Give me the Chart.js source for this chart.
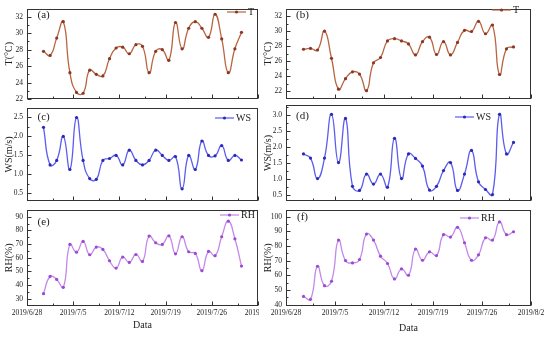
<!DOCTYPE html>
<html>
<head>
<meta charset="utf-8">
<script src="https://cdn.jsdelivr.net/npm/chart.js@4.4.1/dist/chart.umd.min.js"></script>
<style>
  html, body { margin: 0; padding: 0; background: #ffffff; }
  body { width: 550px; height: 337px; position: relative; overflow: hidden; }
  .wrap { position: absolute; left: 0; top: 0; height: 337px; overflow: hidden; }
</style>
</head>
<body>
<script>
// ---------------- DATA ----------------
const dates = ['2019/6/30','2019/7/1','2019/7/2','2019/7/3','2019/7/4','2019/7/5','2019/7/6','2019/7/7',
  '2019/7/8','2019/7/9','2019/7/10','2019/7/11','2019/7/12','2019/7/13','2019/7/14','2019/7/15',
  '2019/7/16','2019/7/17','2019/7/18','2019/7/19','2019/7/20','2019/7/21','2019/7/22','2019/7/23',
  '2019/7/24','2019/7/25','2019/7/26','2019/7/27','2019/7/28','2019/7/29','2019/7/30'];

const xTickLabels = ['2019/6/28','2019/7/5','2019/7/12','2019/7/19','2019/7/26','2019/8/2'];

// (a) temperature
const tA = [27.8,27.3,29.4,31.4,25.2,22.8,22.7,25.5,25.0,24.8,26.9,28.2,28.3,27.5,28.6,28.4,
  25.2,27.8,28.0,26.7,31.3,28.1,30.6,31.4,30.6,29.5,32.3,29.3,25.2,28.1,30.1];
// (b) temperature
const tB = [27.6,27.7,27.5,30.0,26.4,22.3,23.7,24.6,24.3,22.1,25.8,26.5,28.7,29.0,28.7,28.3,
  26.85,28.6,29.2,26.9,28.6,26.85,28.5,30.1,29.95,31.3,29.65,30.8,24.25,27.65,27.9];
// (c) wind speed
const wsC = [2.24,1.25,1.37,2.0,1.13,2.5,1.37,0.89,0.87,1.37,1.42,1.5,1.25,1.64,1.37,1.25,
  1.37,1.64,1.5,1.37,1.47,0.62,1.5,1.13,1.88,1.5,1.49,1.76,1.37,1.5,1.38];
// (d) wind speed
const wsD = [1.77,1.64,1.0,1.64,3.01,1.5,2.88,0.76,0.63,1.14,0.83,1.14,0.73,2.26,1.0,1.77,
  1.63,1.39,0.64,0.76,1.25,1.5,0.63,1.14,1.88,0.9,0.66,0.5,3.01,1.77,2.13];
// (e) relative humidity
const rhE = [33.7,46.3,44.1,38.3,69.8,64.1,72.0,62.2,67.8,66.1,57.8,52.4,60.5,56.6,62.4,57.3,
  75.9,71.0,69.8,76.1,62.9,75.4,64.4,63.2,50.5,64.6,61.5,75.4,86.8,73.9,53.9];
// (f) relative humidity
const rhF = [45.7,43.7,66.2,53.0,56.0,84.0,70.1,68.5,70.8,88.1,84.0,73.1,68.1,57.6,64.4,60.1,
  77.9,70.3,76.0,73.5,87.7,86.1,92.7,82.2,70.3,74.0,85.6,84.0,96.4,87.7,89.7];

const tTicks = [22,24,26,28,30,32];
const wsTicksC = [0.5,1.0,1.5,2.0,2.5];
const wsTicksD = [0.5,1.0,1.5,2.0,2.5,3.0];
const rhTicksE = [30,40,50,60,70,80,90];
const rhTicksF = [40,50,60,70,80,90,100];

// ---------------- helpers ----------------
const DAY = 86400000;
const BASE = Date.UTC(2019,5,28);
function dayNum(s){ const p = s.split('/').map(Number); return (Date.UTC(p[0],p[1]-1,p[2]) - BASE)/DAY; }
const xs = dates.map(d => dayNum(d) + 0.5);          // daily values plotted at noon
const xTickPos = xTickLabels.map(dayNum);
const xLabelMap = new Map(xTickPos.map((v,i)=>[v, xTickLabels[i]]));

const SERIF = '"Liberation Serif", "Times New Roman", serif';
const TXT = '#222222';

const COLORS = {
  T:  {line:'#b8653f', point:'#8b3627'},
  WS: {line:'#5c5cee', point:'#2a2ab8'},
  RH: {line:'#c488ea', point:'#9a4ad4'}
};

// decoration plugin: frame, inward ticks, panel letter, legend
const decor = {
  id: 'decor',
  afterDatasetsDraw(chart, args, o) {
    const ctx = chart.ctx, a = chart.chartArea;
    const xs_ = chart.scales.x, ys_ = chart.scales.y;
    ctx.save();
    ctx.strokeStyle = '#333333';
    ctx.lineWidth = 1;
    const L = Math.round(a.left)+0.5, R = Math.round(a.right)-0.5, T = Math.round(a.top)+0.5, B = Math.round(a.bottom)-0.5;
    ctx.strokeRect(L, T, R-L, B-T);
    ctx.beginPath();
    xs_.ticks.forEach(t => {
      const px = Math.round(xs_.getPixelForValue(t.value))+0.5;
      ctx.moveTo(px, B); ctx.lineTo(px, B-4);
      const mv = t.value + 3.9;
      if (mv < xs_.max) {
        const mx = Math.round(xs_.getPixelForValue(mv))+0.5;
        ctx.moveTo(mx, B); ctx.lineTo(mx, B-2);
      }
    });
    const yt = ys_.ticks.map(t=>t.value);
    yt.forEach(v => {
      const py = Math.round(ys_.getPixelForValue(v))+0.5;
      ctx.moveTo(L, py); ctx.lineTo(L+4, py);
    });
    const step = yt[1]-yt[0];
    for (let v = yt[0]-step/2; v < ys_.max; v += step) {
      if (v <= ys_.min) continue;
      const py = Math.round(ys_.getPixelForValue(v))+0.5;
      ctx.moveTo(L, py); ctx.lineTo(L+2, py);
    }
    ctx.stroke();
    ctx.fillStyle = TXT;
    ctx.font = '11px ' + SERIF;
    ctx.textAlign = 'left'; ctx.textBaseline = 'middle';
    ctx.fillText(o.letter, o.letterX, o.letterY);
    const ds = chart.data.datasets[0];
    ctx.strokeStyle = ds.borderColor; ctx.lineWidth = 1.2;
    ctx.beginPath(); ctx.moveTo(o.lgX, o.lgY); ctx.lineTo(o.lgX+19, o.lgY); ctx.stroke();
    ctx.fillStyle = ds.pointBackgroundColor;
    ctx.beginPath(); ctx.arc(o.lgX+9.5, o.lgY, 1.6, 0, Math.PI*2); ctx.fill();
    ctx.fillStyle = TXT;
    ctx.font = '10px ' + SERIF;
    ctx.fillText(ds.label, o.lgX+21, o.lgY+0.5);
    ctx.restore();
  }
};

function panel(cfg) {
  const wrap = document.createElement('div');
  wrap.className = 'wrap';
  wrap.style.width = (cfg.clipW || 550) + 'px';
  const cv = document.createElement('canvas');
  cv.width = 550; cv.height = 337;
  cv.style.width = '550px'; cv.style.height = '337px';
  wrap.appendChild(cv);
  document.body.appendChild(wrap);

  const col = COLORS[cfg.kind];
  const boxLeft = cfg.yTitleX - 6;
  const Wy = cfg.L - boxLeft;
  const Hx = cfg.showX ? (cfg.xTitleY + 6 - cfg.B) : 0;
  const padBottom = 337 - cfg.B - Hx;

  new Chart(cv, {
    type: 'line',
    data: {
      datasets: [{
        label: cfg.label,
        data: cfg.values.map((v,i)=>({x: xs[i], y: v})),
        borderColor: col.line,
        backgroundColor: col.point,
        pointBackgroundColor: col.point,
        pointBorderColor: col.point,
        pointRadius: 1.6,
        pointBorderWidth: 0,
        borderWidth: 1.3,
        tension: 0.5,
        fill: false
      }]
    },
    options: {
      responsive: false,
      animation: false,
      events: [],
      layout: { padding: { left: boxLeft, top: cfg.T, right: 550 - cfg.R, bottom: padBottom } },
      plugins: {
        legend: { display: false },
        tooltip: { enabled: false },
        decor: cfg.decor
      },
      scales: {
        x: {
          type: 'linear', min: 0, max: 35,
          grid: { display: false, drawTicks: false },
          border: { display: false },
          ticks: {
            display: cfg.showX, color: TXT, padding: 3, maxRotation: 0, autoSkip: false,
            font: { family: SERIF, size: 7.5 },
            callback: v => xLabelMap.has(v) ? xLabelMap.get(v) : ''
          },
          afterBuildTicks: s => { s.ticks = xTickPos.map(v => ({value: v})); },
          afterFit: s => { s.height = Hx; },
          title: { display: cfg.showX, text: 'Data', color: TXT, padding: 0, font: { family: SERIF, size: 10 } }
        },
        y: {
          type: 'linear', min: cfg.yMin, max: cfg.yMax,
          grid: { display: false, drawTicks: false },
          border: { display: false },
          ticks: {
            color: TXT, padding: 4,
            font: { family: SERIF, size: 7.5 },
            callback: v => cfg.dec ? Number(v).toFixed(cfg.dec) : String(v)
          },
          afterBuildTicks: s => { s.ticks = cfg.yTicks.map(v => ({value: v})); },
          afterFit: s => { s.width = Wy; },
          title: { display: true, text: cfg.yTitle, color: TXT, padding: 0, font: { family: SERIF, size: 10 } }
        }
      }
    },
    plugins: [decor]
  });
}

panel({kind:'T', label:'T', values:tB, yTicks:tTicks, yMin:21, yMax:33, yTitle:'T(°C)',
  L:286, R:531, T:4, B:99, yTitleX:268, showX:false,
  decor:{letter:'(b)', letterX:296, letterY:15, lgX:492, lgY:10}});
panel({kind:'WS', label:'WS', values:wsD, yTicks:wsTicksD, dec:1, yMin:0.3, yMax:3.3, yTitle:'WS(m/s)',
  L:286, R:531, T:105, B:201, yTitleX:268, showX:false,
  decor:{letter:'(d)', letterX:296, letterY:116.5, lgX:455, lgY:117}});
panel({kind:'RH', label:'RH', values:rhF, yTicks:rhTicksF, yMin:39.5, yMax:104.5, yTitle:'RH(%)',
  L:286, R:531, T:210, B:305.5, yTitleX:268, showX:true, xTitleY:328,
  decor:{letter:'(f)', letterX:297, letterY:217.5, lgX:460, lgY:218}});

panel({kind:'T', label:'T', values:tA, yTicks:tTicks, yMin:22, yMax:33, yTitle:'T(°C)',
  L:27, R:258, T:4, B:99, yTitleX:9.5, showX:false, clipW:259,
  decor:{letter:'(a)', letterX:37.5, letterY:15, lgX:227, lgY:12}});
panel({kind:'WS', label:'WS', values:wsC, yTicks:wsTicksC, dec:1, yMin:0.3, yMax:2.75, yTitle:'WS(m/s)',
  L:27, R:258, T:108, B:201, yTitleX:9.5, showX:false, clipW:259,
  decor:{letter:'(c)', letterX:37.5, letterY:117, lgX:215, lgY:118}});
panel({kind:'RH', label:'RH', values:rhE, yTicks:rhTicksE, yMin:25, yMax:95, yTitle:'RH(%)',
  L:27, R:258, T:210, B:305.5, yTitleX:9.5, showX:true, xTitleY:325, clipW:259,
  decor:{letter:'(e)', letterX:37.5, letterY:222, lgX:220, lgY:215}});
</script>
</body>
</html>
